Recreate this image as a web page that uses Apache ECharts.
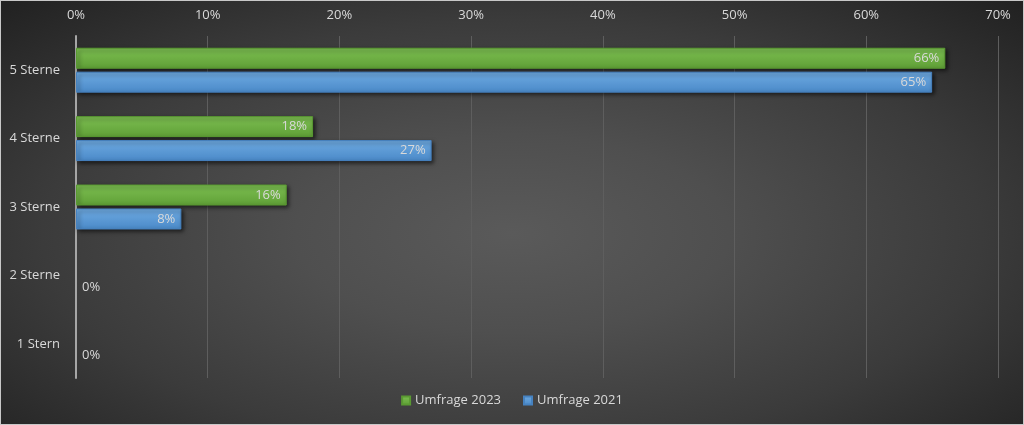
<!DOCTYPE html>
<html>
<head>
<meta charset="utf-8">
<script src="https://cdn.jsdelivr.net/npm/echarts@6/dist/echarts.min.js"></script>
<style>
    html, body { margin: 0; padding: 0; background: #2b2b2b; }
    #chart {
        width: 1024px; height: 425px; box-sizing: border-box;
        border: 1px solid #c8c8c8;
        background: radial-gradient(ellipse farthest-corner at 50% 55%, #5a5a5a 0%, #4f4f4f 30%, #3b3b3b 65%, #212121 100%);
    }
</style>
</head>
<body>
<div id="chart"></div>
<script>
// Daten
const categories = ["5 Sterne", "4 Sterne", "3 Sterne", "2 Sterne", "1 Stern"];
const umfrage2023 = [66, 18, 16, null, null];
const umfrage2021 = [65, 27, 8, 0, 0];
const xTicks = [0, 10, 20, 30, 40, 50, 60, 70];

const textColor = "#d9d9d9";
const fontFamily = "'Open Sans', 'Noto Sans', sans-serif";

const green = new echarts.graphic.LinearGradient(0, 0, 0, 1, [
    { offset: 0, color: "#7dbf52" },
    { offset: 1, color: "#5f9f36" },
]);
const blue = new echarts.graphic.LinearGradient(0, 0, 0, 1, [
    { offset: 0, color: "#6fabe2" },
    { offset: 1, color: "#4a89c8" },
]);

// 0-Werte: kein Balken sichtbar, Beschriftung rechts neben der Achse
function toBarData(values) {
    return values.map((v) => {
        if (v === 0) {
            return {
                value: v,
                label: { position: "right", distance: 6 },
                itemStyle: {
                    color: "rgba(0,0,0,0)",
                    borderWidth: 0,
                    shadowColor: "rgba(0,0,0,0)",
                },
            };
        }
        return v;
    });
}

const barLabel = {
    show: true,
    position: "insideRight",
    distance: 6,
    color: textColor,
    fontSize: 13,
    fontFamily: fontFamily,
    formatter: (p) => p.value + "%",
};

const option = {
    animation: false,
    backgroundColor: "transparent",
    grid: {
        left: 75,
        right: 25,
        top: 35,
        bottom: 46,
    },
    legend: {
        bottom: 12,
        left: "center",
        itemWidth: 8,
        itemHeight: 8,
        itemGap: 22,
        icon: "rect",
        textStyle: { color: textColor, fontSize: 13, fontFamily: fontFamily },
        data: ["Umfrage 2023", "Umfrage 2021"],
    },
    xAxis: {
        type: "value",
        position: "top",
        min: xTicks[0],
        max: xTicks[xTicks.length - 1],
        interval: 10,
        axisLine: { show: false },
        axisTick: { show: false },
        axisLabel: {
            color: textColor,
            fontSize: 13,
            fontFamily: fontFamily,
            margin: 14,
            formatter: "{value}%",
        },
        splitLine: { lineStyle: { color: "#5e5e5e", width: 1 } },
    },
    yAxis: {
        type: "category",
        inverse: true,
        data: categories,
        axisLine: { lineStyle: { color: "#a6a6a6", width: 2 } },
        axisTick: { show: false },
        axisLabel: {
            color: textColor,
            fontSize: 13,
            fontFamily: fontFamily,
            margin: 16,
        },
    },
    series: [
        {
            name: "Umfrage 2023",
            type: "bar",
            data: toBarData(umfrage2023),
            barWidth: 21,
            barGap: "14%",
            itemStyle: {
                color: green,
                borderColor: "#5a9a32",
                borderWidth: 1,
                shadowColor: "rgba(0,0,0,0.6)",
                shadowBlur: 4,
                shadowOffsetX: 2,
                shadowOffsetY: 2,
            },
            label: barLabel,
        },
        {
            name: "Umfrage 2021",
            type: "bar",
            data: toBarData(umfrage2021),
            barWidth: 21,
            itemStyle: {
                color: blue,
                borderColor: "#4682c0",
                borderWidth: 1,
                shadowColor: "rgba(0,0,0,0.6)",
                shadowBlur: 4,
                shadowOffsetX: 2,
                shadowOffsetY: 2,
            },
            label: barLabel,
        },
    ],
    color: ["#70ad47", "#5b9bd5"],
};

const chart = echarts.init(document.getElementById("chart"), null, { renderer: "canvas" });
chart.setOption(option);
</script>
</body>
</html>
